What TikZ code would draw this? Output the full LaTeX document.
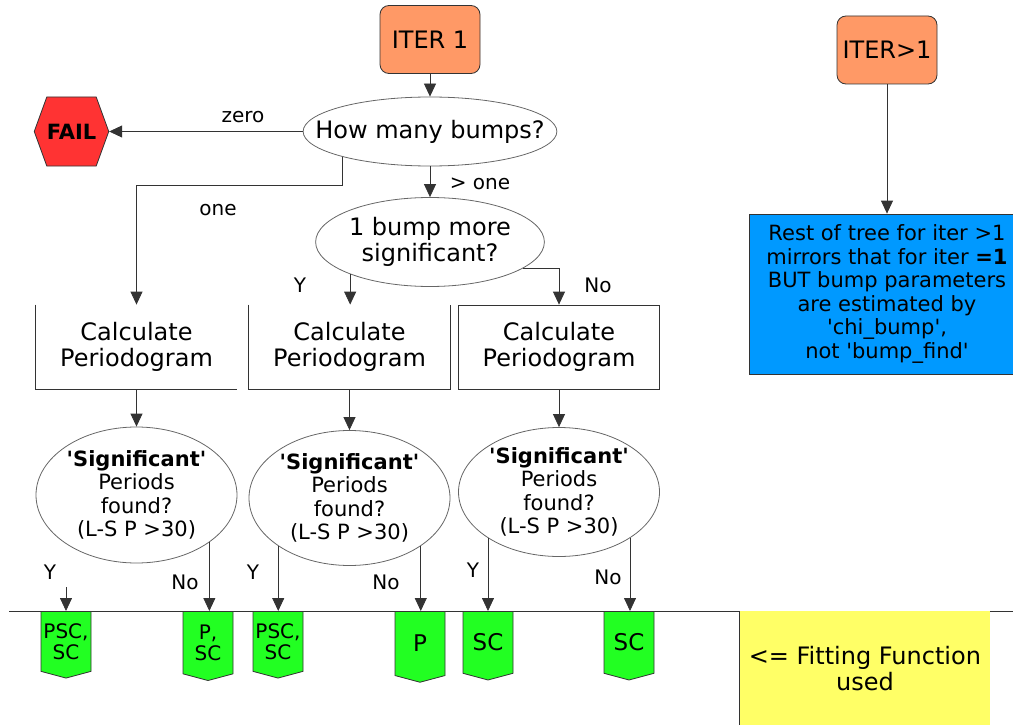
\documentclass[tikz,border=0pt]{standalone}
\usepackage{fontspec}
\setmainfont{DejaVu Sans}[Ligatures=TeXOff]
\usetikzlibrary{arrows.meta,shapes.geometric,shapes.symbols}

\definecolor{iterorange}{HTML}{FF9966}
\definecolor{failred}{HTML}{FF3333}
\definecolor{fitgreen}{HTML}{22FF22}
\definecolor{noteblue}{HTML}{0099FF}
\definecolor{noteyellow}{HTML}{FFFF66}

\newcommand{\iterfont}{\fontsize{24}{26}\selectfont}
\newcommand{\askfont}{\fontsize{21}{23.5}\selectfont}
\newcommand{\lblfont}{\fontsize{20}{22}\selectfont}
\newcommand{\fitfont}{\fontsize{20}{21}\selectfont}

\begin{document}
\begin{tikzpicture}[x=1pt, y=-1pt, line width=0.8pt, black!80,
	every node/.style={inner sep=0pt, align=center, text=black},
	arr/.style={draw=black!80, -{Triangle[length=13pt,width=12pt]}},
	iterbox/.style={draw, fill=iterorange, rounded corners=9pt, minimum width=100pt, minimum height=68pt, font=\iterfont},
	question/.style={ellipse, draw=black!60, minimum width=201pt, font=\askfont},
	perbox/.style={minimum width=201pt, minimum height=84pt, font=\iterfont},
	fittag/.style={signal, signal to=south, signal from=nowhere, signal pointer angle=150, draw, fill=fitgreen, minimum width=50pt, minimum height=66pt, anchor=north, font=\fitfont},
	lbl/.style={font=\lblfont}]
	\useasboundingbox (0,0) rectangle (1013,725);

	% first iteration
	\node[iterbox] (iterone) at (430,39.5) {ITER 1};
	\node[question, minimum width=252pt, minimum height=69pt, inner xsep=-25pt, font=\iterfont] (bumps) at (430,131.5) {How many bumps?};
	\node[signal, signal to=west and east, signal pointer angle=140, draw, fill=failred, minimum width=73pt, minimum height=69pt, font=\fontsize{21}{23}\selectfont\bfseries] (fail) at (71.5,131.5) {FAIL};
	\node[question, minimum width=228pt, minimum height=89pt, font=\iterfont] (morebump) at (430,242) {1 bump more\\significant?};

	\draw[arr] (iterone) -- (bumps);
	\draw[arr] (bumps.west) -- (fail.east);
	\draw[arr] (bumps.south) -- (morebump.north);

	\node[perbox] (per1) at (136.5,347) {Calculate\\Periodogram};
	\node[perbox] (per2) at (349.5,347) {Calculate\\Periodogram};
	\node[perbox, draw] (per3) at (559,347) {Calculate\\Periodogram};
	\draw (per1.north west) -- (per1.south west) -- (per1.south east);
	\draw (per2.north west) -- (per2.south west) -- (per2.south east) -- (per2.north east);

	\draw[arr] (bumps.-164) -- ++(0,29) -| (per1.north);
	\draw[arr] (morebump.-158) -- (morebump.-158 |- per2.north);
	\draw[arr] (morebump.-16) -| (per3.north);

	\node[lbl] (lzero) at (243,117) {zero};
	\node[lbl] (lone) at (218,210) {one};
	\node[lbl] (lmore) at (480,184) {> one};
	\node[lbl] (lyes) at (300,285) {Y};
	\node[lbl] (lno) at (598,285) {No};

	% periods found?
	\node[question, minimum height=136pt] (sig1) at (136.5,495) {{\bfseries 'Significant'}\\Periods\\found?\\(L-S P >30)};
	\node[question, minimum height=135pt] (sig2) at (349.5,498) {{\bfseries 'Significant'}\\Periods\\found?\\(L-S P >30)};
	\node[question, minimum height=129pt] (sig3) at (559,492) {{\bfseries 'Significant'}\\Periods\\found?\\(L-S P >30)};
	\foreach \i in {1,2,3}
		\draw[arr] (per\i.south) -- (sig\i.north);

	% fitting functions along the line
	\draw (9,611) -- (1013,611);
	\node[fittag] (t1) at (66,611) {PSC,\\SC};
	\node[fittag] (t2) at (208,611) {P,\\SC};
	\node[fittag] (t3) at (278,611) {PSC,\\SC};
	\node[fittag, font=\fontsize{23}{25}\selectfont] (t4) at (420,611) {P};
	\node[fittag, font=\fontsize{23}{25}\selectfont] (t5) at (488,611) {SC};
	\node[fittag, font=\fontsize{23}{25}\selectfont] (t6) at (629,611) {SC};

	\coordinate (ystart) at (66,587);
	\draw[arr] (ystart) -- (t1.north);
	\draw[arr] (sig1.-33) -- (sig1.-33 |- t2.north);
	\draw[arr] (sig2.-146) -- (sig2.-146 |- t3.north);
	\draw[arr] (sig2.-34) -- (sig2.-34 |- t4.north);
	\draw[arr] (sig3.-147) -- (sig3.-147 |- t5.north);
	\draw[arr] (sig3.-33) -- (sig3.-33 |- t6.north);

	\node[lbl] (ly1) at (50,572) {Y};
	\node[lbl] (ln1) at (185,582) {No};
	\node[lbl] (ly2) at (253,572) {Y};
	\node[lbl] (ln2) at (386,582) {No};
	\node[lbl] (ly3) at (473,570) {Y};
	\node[lbl] (ln3) at (608,577) {No};

	\node[fill=noteyellow, minimum width=251pt, minimum height=115pt, anchor=north west, font=\iterfont] (fitfn) at (739,611) {<= Fitting Function\\used};
	\draw (fitfn.north west) -- (fitfn.south west);

	% later iterations
	\node[iterbox] (iterlater) at (887,50) {ITER>1};
	\node[draw, fill=noteblue, minimum width=276pt, minimum height=160pt, font=\askfont] (rest) at (887,294)
		{Rest of tree for iter >1\\mirrors that for iter {\bfseries =1}\\BUT bump parameters\\are estimated by\\'chi\_bump',\\not 'bump\_find'};
	\draw[arr] (iterlater) -- (rest);
\end{tikzpicture}
\end{document}
